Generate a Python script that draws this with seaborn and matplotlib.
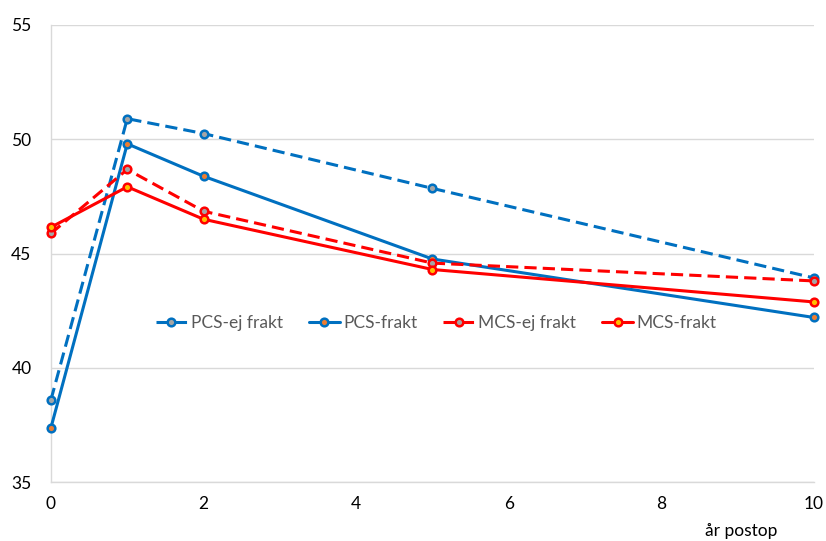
import matplotlib
matplotlib.use("Agg")
import matplotlib.pyplot as plt
import seaborn as sns
import pandas as pd

years = [0, 1, 2, 5, 10]
pcs_ej_frakt = [38.6, 50.9, 50.25, 47.85, 43.93]
pcs_frakt = [37.38, 49.8, 48.38, 44.76, 42.2]
mcs_ej_frakt = [45.88, 48.68, 46.85, 44.58, 43.8]
mcs_frakt = [46.15, 47.92, 46.5, 44.3, 42.88]
series_names = ["PCS-ej frakt", "PCS-frakt", "MCS-ej frakt", "MCS-frakt"]
y_ticks = [35, 40, 45, 50, 55]
x_ticks = [0, 2, 4, 6, 8, 10]

sns.set_theme(style="white")
plt.rcParams['font.family'] = ['Lato', 'DejaVu Sans']

fig = plt.figure(figsize=(8.26, 5.41), dpi=100)
ax = fig.add_axes([0.0617, 0.109, 0.9238, 0.8448])

values = [pcs_ej_frakt, pcs_frakt, mcs_ej_frakt, mcs_frakt]
blue = "#0070C0"
red = "#FF0000"
styles = {
    "PCS-ej frakt": dict(color=blue, ls=(0, (4, 2)), mfc="#A5A5A5"),
    "PCS-frakt": dict(color=blue, ls="-", mfc="#ED7D31"),
    "MCS-ej frakt": dict(color=red, ls=(0, (4, 2)), mfc="#A5A5A5"),
    "MCS-frakt": dict(color=red, ls="-", mfc="#FFC000"),
}
for name, vals in zip(series_names, values):
    df = pd.DataFrame({"x": years, "y": vals})
    st = styles[name]
    sns.lineplot(data=df, x="x", y="y", ax=ax, color=st["color"], linestyle=st["ls"],
                 linewidth=2.2, marker="o", markersize=5.5, markerfacecolor=st["mfc"],
                 markeredgecolor=st["color"], markeredgewidth=1.8, label=name,
                 clip_on=False, zorder=3)

ax.set_xlim(0, 10)
ax.set_ylim(35, 55)
ax.set_xticks(x_ticks)
ax.set_yticks(y_ticks)
ax.yaxis.grid(True, color="#D9D9D9", linewidth=1)
ax.xaxis.grid(False)
for s in ["top", "right"]:
    ax.spines[s].set_visible(False)
for s in ["left", "bottom"]:
    ax.spines[s].set_color("#D9D9D9")
    ax.spines[s].set_linewidth(1)
ax.tick_params(axis="both", length=0, labelsize=12.5, colors="#000000", pad=10)
ax.tick_params(axis="y", pad=14)
ax.set_ylabel("")
ax.set_xlabel("år postop", fontsize=12.5, color="#000000")
ax.xaxis.set_label_coords(0.905, -0.09)

leg = ax.legend(loc="center", bbox_to_anchor=(0.505, 0.348), ncol=4, frameon=False,
                fontsize=12.5, handlelength=1.8, handletextpad=0.2, columnspacing=1.5,
                labelcolor="#595959")
ax.set_axisbelow(True)
fig.savefig("out.png", dpi=100)
